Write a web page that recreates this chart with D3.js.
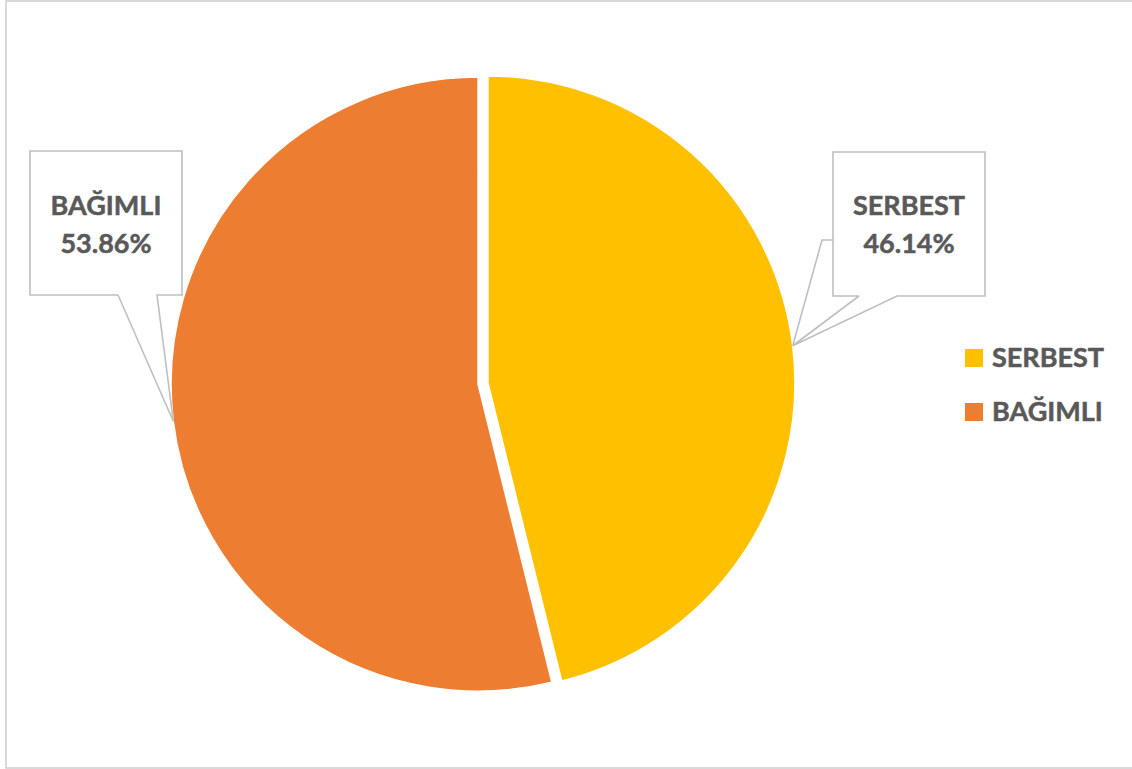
<!DOCTYPE html>
<html>
<head>
<meta charset="utf-8">
<script src="https://cdn.jsdelivr.net/npm/d3@7"></script>
<style>
  html, body { margin: 0; padding: 0; background: #fff; }
  svg { display: block; }
  text { font-family: Lato, "Open Sans", sans-serif; font-weight: 700; fill: #595959; stroke: #595959; stroke-width: 0.5px; }
</style>
</head>
<body>
<svg id="chart" width="1132" height="769"></svg>
<script>
// Share of the two categories (percent)
const categories = ["SERBEST", "BAĞIMLI"];
const values = [46.14, 53.86];
const colors = ["#FFC000", "#ED7D31"];

const svg = d3.select("#chart");
const W = 1132, H = 769;

// Chart frame
svg.append("rect")
  .attr("x", 6).attr("y", 1)
  .attr("width", W + 10).attr("height", 767)
  .attr("fill", "#fff")
  .attr("stroke", "#D0D0D0").attr("stroke-width", 1.6);

const cx = 483, cy = 383.5, R = 307, explode = 5;

const pie = d3.pie().sort(null).value(d => d.value);
const data = categories.map((c, i) => ({ name: c, value: values[i], color: colors[i] }));
const arcs = pie(data);
const arc = d3.arc().innerRadius(0).outerRadius(R);

const g = svg.append("g").attr("transform", `translate(${cx},${cy})`);

function midAngle(d) { return (d.startAngle + d.endAngle) / 2; }
function offset(d, r) {
  const a = midAngle(d);
  return [Math.sin(a) * r, -Math.cos(a) * r];
}

g.selectAll("path.slice")
  .data(arcs)
  .join("path")
  .attr("class", "slice")
  .attr("d", arc)
  .attr("fill", d => d.data.color)
  .attr("stroke", "#fff")
  .attr("stroke-width", 1.5)
  .attr("transform", d => { const o = offset(d, explode); return `translate(${o[0]},${o[1]})`; });

// Callout labels
const callouts = {
  "SERBEST": { x0: 833, y0: 152, x1: 985, y1: 296, gap: [859, 897], side: [240, 822] },
  "BAĞIMLI": { x0: 30, y0: 151, x1: 182, y1: 295, gap: [118, 157] }
};

const lab = svg.append("g");
arcs.forEach(d => {
  const b = callouts[d.data.name];
  const o = offset(d, explode);
  const t = offset(d, R);
  const tip = [cx + o[0] + t[0], cy + o[1] + t[1]];

  const p = d3.path();
  p.moveTo(b.gap[0], b.y1);
  p.lineTo(b.x0, b.y1);
  p.lineTo(b.x0, b.y0);
  p.lineTo(b.x1, b.y0);
  p.lineTo(b.x1, b.y1);
  p.lineTo(b.gap[1], b.y1);
  p.lineTo(tip[0], tip[1]);
  p.lineTo(b.gap[0], b.y1);
  if (b.side) {
    p.moveTo(b.x0, b.side[0]);
    p.lineTo(b.side[1], b.side[0]);
    p.lineTo(tip[0], tip[1]);
  }
  lab.append("path")
    .attr("d", p.toString())
    .attr("fill", "none")
    .attr("stroke", "#BFBFBF")
    .attr("stroke-width", 1.6)
    .attr("stroke-linejoin", "miter");

  const mx = (b.x0 + b.x1) / 2;
  lab.append("text").attr("x", mx).attr("y", 215)
    .attr("text-anchor", "middle").attr("font-size", 27)
    .text(d.data.name);
  lab.append("text").attr("x", mx).attr("y", 253)
    .attr("text-anchor", "middle").attr("font-size", 27)
    .text(d3.format(".2f")(d.data.value) + "%");
});

// Legend
const legend = svg.append("g").attr("transform", "translate(965,349)");
const item = legend.selectAll("g").data(data).join("g")
  .attr("transform", (d, i) => `translate(0,${i * 54})`);
item.append("rect").attr("width", 18).attr("height", 18).attr("fill", d => d.color);
item.append("text").attr("x", 27).attr("y", 17.5).attr("font-size", 27).text(d => d.name);
</script>
</body>
</html>
